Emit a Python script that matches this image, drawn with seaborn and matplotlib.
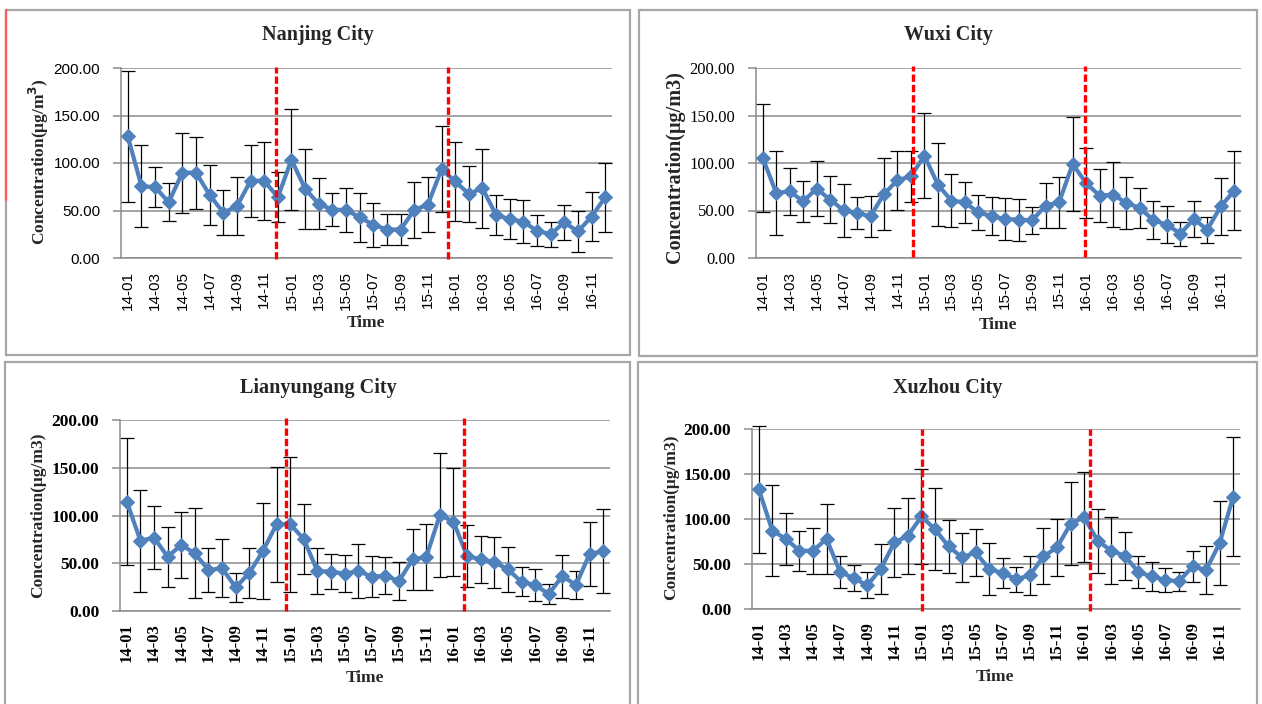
import matplotlib
matplotlib.use("Agg")
import matplotlib.pyplot as plt
from matplotlib.patches import Rectangle
from matplotlib.lines import Line2D
import numpy as np
import seaborn as sns

# month categories (14-01 .. 16-12)
months = ["14-01", "14-02", "14-03", "14-04", "14-05", "14-06", "14-07", "14-08", "14-09", "14-10", "14-11", "14-12",
          "15-01", "15-02", "15-03", "15-04", "15-05", "15-06", "15-07", "15-08", "15-09", "15-10", "15-11", "15-12",
          "16-01", "16-02", "16-03", "16-04", "16-05", "16-06", "16-07", "16-08", "16-09", "16-10", "16-11", "16-12"]

# monthly mean and std (ug/m3)
nanjing_mean = [128, 75.6, 74.6, 58.7, 89.8, 89.8, 66.4, 47.7, 54.4, 81.3, 81.3, 64,
                103.5, 72.8, 56.9, 50.9, 50.5, 42.8, 35, 30, 30, 50.5, 56.2, 93.3,
                80.6, 67.5, 73.5, 45.2, 41, 38.2, 28.6, 25, 37.5, 27.9, 43.5, 64]
nanjing_sd = [69, 43, 21, 20, 42, 38, 32, 23.5, 30.4, 38, 40.8, 26.3,
              53, 42, 26.8, 17.2, 23.2, 26, 23.3, 16.6, 16.6, 29, 28.8, 45.4,
              42, 29.7, 41.5, 21.4, 20.9, 22.6, 16.4, 13.2, 18.6, 22.1, 26, 36.4]

wuxi_mean = [105.3, 68.4, 70.2, 59.6, 73, 61.4, 50.2, 47.4, 43.9, 67.4, 81.8, 86,
             107.7, 77.2, 60.4, 58.6, 48, 43.9, 41, 40.4, 39.6, 55.1, 58.6, 98.9,
             78.9, 65.6, 66.7, 57.9, 52.6, 39.6, 35.1, 25.6, 41, 29.8, 54.4, 70.9]
wuxi_sd = [56.6, 43.9, 24.7, 21.5, 28.8, 24.8, 28.2, 16.5, 21.4, 37.7, 31, 26.7,
           44.6, 43.5, 27.9, 21.3, 18.6, 20, 22, 22.2, 14.6, 23.5, 26.9, 49.3,
           36.7, 28, 33.9, 27.4, 21.4, 20, 19.3, 12.7, 19.3, 13.7, 30.2, 41.9]

lyg_mean = [114.5, 73.6, 76.8, 56.9, 69.1, 60.4, 42.9, 44.7, 24.8, 39.8, 62.8, 90.8,
            90.8, 75.4, 41.9, 41.2, 39.1, 41.9, 36, 37, 31.4, 54.1, 56.5, 100.5,
            93.5, 57.6, 54.1, 51.3, 43.6, 30.4, 27.2, 17.8, 36.6, 27.2, 59.7, 62.8]
lyg_sd = [66.5, 53.4, 33.3, 31.5, 34.2, 47.1, 23.3, 30.2, 15, 26.6, 49.8, 60.2,
          70.4, 37, 24.4, 18.4, 19.1, 28.6, 21.1, 19.7, 20.4, 32, 34.9, 65.4,
          56.5, 32.8, 24.6, 26.7, 23.8, 15.2, 16.4, 10, 22.5, 14.9, 33.5, 43.7]

xuzhou_mean = [133, 86.9, 78, 64.7, 64.7, 78, 41, 34.4, 26.2, 44.4, 73.9, 81.3,
               102.8, 88.7, 69.5, 57.3, 62.8, 44.4, 39.9, 33.3, 37.3, 58.4, 68.4, 94.6,
               102, 75.8, 64.7, 59.1, 41, 36.2, 32.2, 30.7, 47.3, 43.3, 73.2, 125]
xuzhou_sd = [70.8, 50.5, 28.8, 22.4, 25.5, 39.2, 17.4, 14.4, 14.5, 27.4, 38.3, 42.5,
             52.7, 45.5, 29, 26.8, 26.1, 28.9, 16.5, 13.9, 21.6, 31.1, 31.8, 46.2,
             49.9, 35.5, 37, 26.6, 17.4, 15.9, 13.1, 10.9, 17.4, 26.6, 46.4, 65.8]

# positions of the red dashed year separators (in month index units)
nanjing_splits = [10.85, 23.5]
wuxi_splits = [11.17, 23.92]
lyg_splits = [11.71, 24.8]
xuzhou_splits = [12.04, 24.47]

yticks = [0, 50, 100, 150, 200]
ytick_labels = ["0.00", "50.00", "100.00", "150.00", "200.00"]

sns.set_theme(style="white")
plt.rcParams["font.family"] = ["Liberation Serif", "DejaVu Serif"]

BLUE = "#4f81bd"
GRID = "#8c8c8c"
W, H = 1262, 704
fig = plt.figure(figsize=(W / 100, H / 100), dpi=100)
fig.patch.set_facecolor("white")


def box(x0, y0, x1, y1, color="#a6a6a6"):
    fig.add_artist(Rectangle((x0 / W, 1 - y1 / H), (x1 - x0) / W, (y1 - y0) / H,
                             transform=fig.transFigure, fill=False, edgecolor=color, lw=1.6))


box(6, 10, 630, 355)
box(639, 10, 1257, 356)
box(5, 362, 630, 712)
box(638, 362, 1257, 712)
fig.add_artist(Line2D([6 / W, 6 / W], [1 - 10 / H, 1 - 200 / H], transform=fig.transFigure,
                      color="#ff5a5a", lw=1.6))

panels = [
    dict(title="Nanjing City", mean=nanjing_mean, sd=nanjing_sd, splits=nanjing_splits,
         rect=(121, 68, 612, 258), title_xy=(318, 35), xlab_xy=(366, 323), ylab_xy=(39, 162),
         ylabel="Concentration(μg/m$\\mathbf{^3}$)", ylab_size=12.5,
         ytick_font=("Liberation Sans", "normal", 11), xtick_font=("Liberation Sans", "normal", 11),
         red_y=(-1.5, 201.5)),
    dict(title="Wuxi City", mean=wuxi_mean, sd=wuxi_sd, splits=wuxi_splits,
         rect=(756, 68, 1241, 258), title_xy=(948, 35), xlab_xy=(998, 325), ylab_xy=(675, 167),
         ylabel="Concentration(μg/m3)", ylab_size=14.5,
         ytick_font=("Liberation Serif", "normal", 12), xtick_font=("Liberation Sans", "normal", 11),
         red_y=(1, 202)),
    dict(title="Lianyungang City", mean=lyg_mean, sd=lyg_sd, splits=lyg_splits,
         rect=(120, 420, 610, 611), title_xy=(318, 388), xlab_xy=(365, 678), ylab_xy=(38, 515),
         ylabel="Concentration(μg/m3)", ylab_size=12.5,
         ytick_font=("Liberation Serif", "bold", 12.5), xtick_font=("Liberation Serif", "bold", 12),
         red_y=(-0.5, 202.5)),
    dict(title="Xuzhou City", mean=xuzhou_mean, sd=xuzhou_sd, splits=xuzhou_splits,
         rect=(752, 429, 1240, 609), title_xy=(948, 388), xlab_xy=(995, 677), ylab_xy=(671, 517),
         ylabel="Concentration(μg/m3)", ylab_size=12.5,
         ytick_font=("Liberation Serif", "bold", 12.5), xtick_font=("Liberation Serif", "bold", 12),
         red_y=(-2, 200.5)),
]

x = np.arange(len(months))

for p in panels:
    x0, y0, x1, y1 = p["rect"]
    ax = fig.add_axes([x0 / W, 1 - y1 / H, (x1 - x0) / W, (y1 - y0) / H])
    ax.set_facecolor("white")

    eb = ax.errorbar(x, p["mean"], yerr=p["sd"], fmt="none", ecolor="black",
                     elinewidth=0.9, capsize=5, capthick=0.9, zorder=2)
    for art in eb.lines[1] + eb.lines[2]:
        art.set_clip_on(False)
    sns.lineplot(x=x, y=p["mean"], ax=ax, color=BLUE, linewidth=3, marker="D",
                 markersize=7.5, markeredgecolor=BLUE, zorder=3)
    for s in p["splits"]:
        ax.plot([s, s], list(p["red_y"]), color="red", lw=2.4, ls=(0, (2.2, 0.9)),
                clip_on=False, zorder=4)

    ax.set_xlim(-0.5, 35.5)
    ax.set_ylim(0, 200)
    ax.set_xlabel("")
    ax.set_ylabel("")
    ax.yaxis.grid(True, color=GRID, lw=1.1)
    ax.xaxis.grid(False)
    ax.set_axisbelow(True)
    for side in ("top", "right"):
        ax.spines[side].set_visible(False)
    for side in ("left", "bottom"):
        ax.spines[side].set_color(GRID)
        ax.spines[side].set_linewidth(1.1)

    ax.set_yticks(yticks)
    ax.set_xticks(x[::2])
    ax.tick_params(axis="y", length=6, width=1.1, color=GRID, pad=9, left=True)
    ax.tick_params(axis="x", length=0, pad=9)

    yf, yw, ys = p["ytick_font"]
    ax.set_yticklabels(ytick_labels, family=yf, fontweight=yw, fontsize=ys, color="black")
    xf, xw, xs = p["xtick_font"]
    ax.set_xticklabels(months[::2], rotation=90, family=xf, fontweight=xw, fontsize=xs, color="black")

    tx, ty = p["title_xy"]
    fig.text(tx / W, 1 - ty / H, p["title"], ha="center", va="center",
             fontsize=14.5, fontweight="bold")
    lx, ly = p["xlab_xy"]
    fig.text(lx / W, 1 - ly / H, "Time", ha="center", va="center",
             fontsize=12.5, fontweight="bold")
    yx, yy = p["ylab_xy"]
    fig.text(yx / W, 1 - yy / H, p["ylabel"], ha="center", va="center", rotation=90,
             fontsize=p["ylab_size"], fontweight="bold")

fig.savefig("out.png", dpi=100, facecolor="white")
